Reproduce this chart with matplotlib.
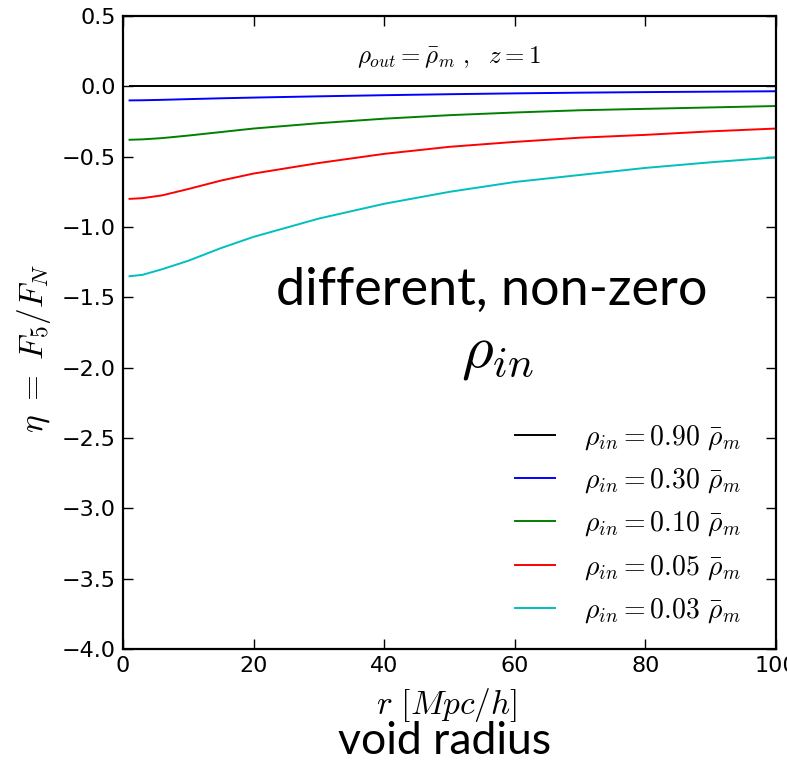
import numpy as np
import matplotlib
matplotlib.use("Agg")
import matplotlib.pyplot as plt

plt.rcParams['mathtext.fontset'] = 'cm'
plt.rcParams['font.family'] = ['DejaVu Sans']

r = [1, 3, 6, 10, 15, 20, 30, 40, 50, 60, 70, 80, 90, 100]
eta_090 = [0, 0, 0, 0, 0, 0, 0, 0, 0, 0, 0, 0, 0, 0]
eta_030 = [-0.100, -0.099, -0.096, -0.091, -0.085, -0.080, -0.071, -0.063, -0.056, -0.050, -0.045, -0.041, -0.038, -0.035]
eta_010 = [-0.380, -0.377, -0.368, -0.350, -0.325, -0.300, -0.262, -0.230, -0.205, -0.186, -0.170, -0.160, -0.150, -0.140]
eta_005 = [-0.800, -0.795, -0.775, -0.730, -0.670, -0.620, -0.545, -0.480, -0.430, -0.395, -0.365, -0.345, -0.320, -0.300]
eta_003 = [-1.350, -1.340, -1.300, -1.240, -1.150, -1.070, -0.940, -0.835, -0.750, -0.680, -0.630, -0.580, -0.540, -0.505]

series = [
    (eta_090, 'k', r'$\rho_{in} = 0.90\ \bar{\rho}_m$'),
    (eta_030, 'b', r'$\rho_{in} = 0.30\ \bar{\rho}_m$'),
    (eta_010, 'g', r'$\rho_{in} = 0.10\ \bar{\rho}_m$'),
    (eta_005, 'r', r'$\rho_{in} = 0.05\ \bar{\rho}_m$'),
    (eta_003, 'c', r'$\rho_{in} = 0.03\ \bar{\rho}_m$'),
]

fig = plt.figure(figsize=(7.87, 7.62), dpi=100)
ax = fig.add_axes([123/787, 113/762, 653/787, 633/762])

for vals, col, lab in series:
    ax.plot(r, vals, color=col, lw=1.4, label=lab)

ax.set_xlim(0, 100)
ax.set_ylim(-4.0, 0.5)
ax.set_xticks([0, 20, 40, 60, 80, 100])
ax.set_yticks(np.arange(-4.0, 0.51, 0.5))
ax.tick_params(direction='in', top=True, right=True, length=7, width=1, labelsize=16, pad=5)
for s in ax.spines.values():
    s.set_linewidth(1.6)

ax.set_xlabel(r'$r\ [Mpc/h]$', fontsize=24, va='center')
ax.xaxis.set_label_coords(0.496, -0.088)
ax.set_ylabel(r'$\eta\ =\ F_5/F_N$', fontsize=24, va='center')
ax.yaxis.set_label_coords(-0.136, 0.475)

ax.text(50, 0.21, r'$\rho_{out} = \bar{\rho}_m\ ,\ \ z = 1$', fontsize=18, ha='center', va='center')

leg = ax.legend(loc='lower left', bbox_to_anchor=(0.600, 0.038), frameon=False,
                borderaxespad=0, borderpad=0,
                fontsize=20, labelspacing=0.5, handlelength=1.45, handletextpad=1.05)

fig.text(492/787, 1 - 290/762, 'different, non-zero', fontsize=37.5, family='Lato',
         ha='center', va='center')
fig.text(497/787, 1 - 352/762, r'$\rho_{in}$', fontsize=44, ha='center', va='center')
fig.text(445/787, 1 - 742/762, 'void radius', fontsize=32, family='Lato',
         ha='center', va='center')

fig.savefig('out.png', dpi=100)
